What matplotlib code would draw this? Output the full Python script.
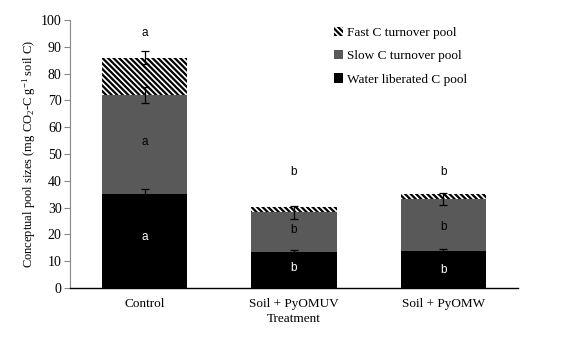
import matplotlib
matplotlib.use("Agg")
import matplotlib.pyplot as plt
from matplotlib.patches import Patch
import numpy as np

categories = ["Control", "Soil + PyOMUV", "Soil + PyOMW"]
water_pool = [35.0, 13.3, 13.8]
slow_pool = [37.0, 14.9, 19.4]
fast_pool = [14.0, 2.0, 1.9]
water_err = [2.0, 0.8, 0.6]
slow_err = [3.0, 2.3, 2.4]
fast_err = [2.4, 0.0, 0.0]
letters_water = ["a", "b", "b"]
letters_slow = ["a", "b", "b"]
letters_top = ["a", "b", "b"]

plt.rcParams["hatch.linewidth"] = 1.6
plt.rcParams["mathtext.fontset"] = "custom"
plt.rcParams["mathtext.rm"] = "Liberation Serif"
plt.rcParams["mathtext.it"] = "Liberation Serif:italic"
plt.rcParams["mathtext.bf"] = "Liberation Serif:bold"
serif = ["Liberation Serif", "DejaVu Serif"]
sans = ["Liberation Sans", "DejaVu Sans"]
HATCH = "\\" * 6

fig = plt.figure(figsize=(5.62, 3.39), dpi=100)
ax = fig.add_axes([70 / 562, 51 / 339, 448 / 562, 268 / 339])

x = np.arange(len(categories))
w = 0.57
water = np.array(water_pool)
slow = np.array(slow_pool)
fast = np.array(fast_pool)

ax.bar(x, water, w, color="black", zorder=2)
ax.bar(x, slow, w, bottom=water, color="#595959", zorder=2)
ax.bar(x, fast, w, bottom=water + slow, color="white", edgecolor="black",
       hatch=HATCH, linewidth=0, zorder=2)

ekw = dict(fmt="none", ecolor="black", elinewidth=0.9, capsize=3, capthick=0.9, zorder=3)
ax.errorbar(x, water, yerr=water_err, **ekw)
ax.errorbar(x, water + slow, yerr=slow_err, **ekw)
ax.errorbar(x[:1], (water + slow + fast)[:1], yerr=fast_err[:1], **ekw)

# significance letters
water_y = [19.1, 7.3, 6.7]
slow_y = [54.5, 21.5, 22.6]
top_y = [95.0, 43.3, 43.3]
for i in range(len(categories)):
    ax.text(x[i], water_y[i], letters_water[i], color="white", ha="center", va="center",
            fontsize=8.5, family=sans, zorder=4)
    ax.text(x[i], slow_y[i], letters_slow[i], color="black", ha="center", va="center",
            fontsize=8.5, family=sans, zorder=4)
    ax.text(x[i], top_y[i], letters_top[i], color="black", ha="center", va="center",
            fontsize=8.5, family=sans, zorder=4)

ax.set_xlim(-0.5, 2.5)
ax.set_ylim(0, 100)
ax.set_yticks(np.arange(0, 101, 10))
ax.set_xticks(x)
ax.set_xticklabels(categories, family=serif, fontsize=9.5)
for lab in ax.get_yticklabels():
    lab.set_family(serif)
    lab.set_fontsize(10)
ax.tick_params(axis="x", length=0, pad=7)
ax.tick_params(axis="y", length=4, width=0.8, color="#888888", pad=2)

for s in ["top", "right"]:
    ax.spines[s].set_visible(False)
ax.spines["left"].set_color("#888888")
ax.spines["left"].set_linewidth(0.8)
ax.spines["bottom"].set_color("black")
ax.spines["bottom"].set_linewidth(1.0)

ax.set_xlabel("Treatment", family=serif, fontsize=9.5, labelpad=2)
ax.set_ylabel(r"Conceptual pool sizes (mg CO$_2$-C g$^{-1}$ soil C)", family=serif,
              fontsize=9, labelpad=2)

handles = [
    Patch(facecolor="white", edgecolor="black", hatch=HATCH, linewidth=0, label="Fast C turnover pool"),
    Patch(facecolor="#595959", label="Slow C turnover pool"),
    Patch(facecolor="black", label="Water liberated C pool"),
]
leg = ax.legend(handles=handles, loc="upper left", bbox_to_anchor=(0.563, 1.02),
                frameon=False, prop={"family": serif, "size": 9.5},
                handlelength=0.7, handleheight=0.7, handletextpad=0.3, labelspacing=0.85)

fig.savefig("out.png", dpi=100)
